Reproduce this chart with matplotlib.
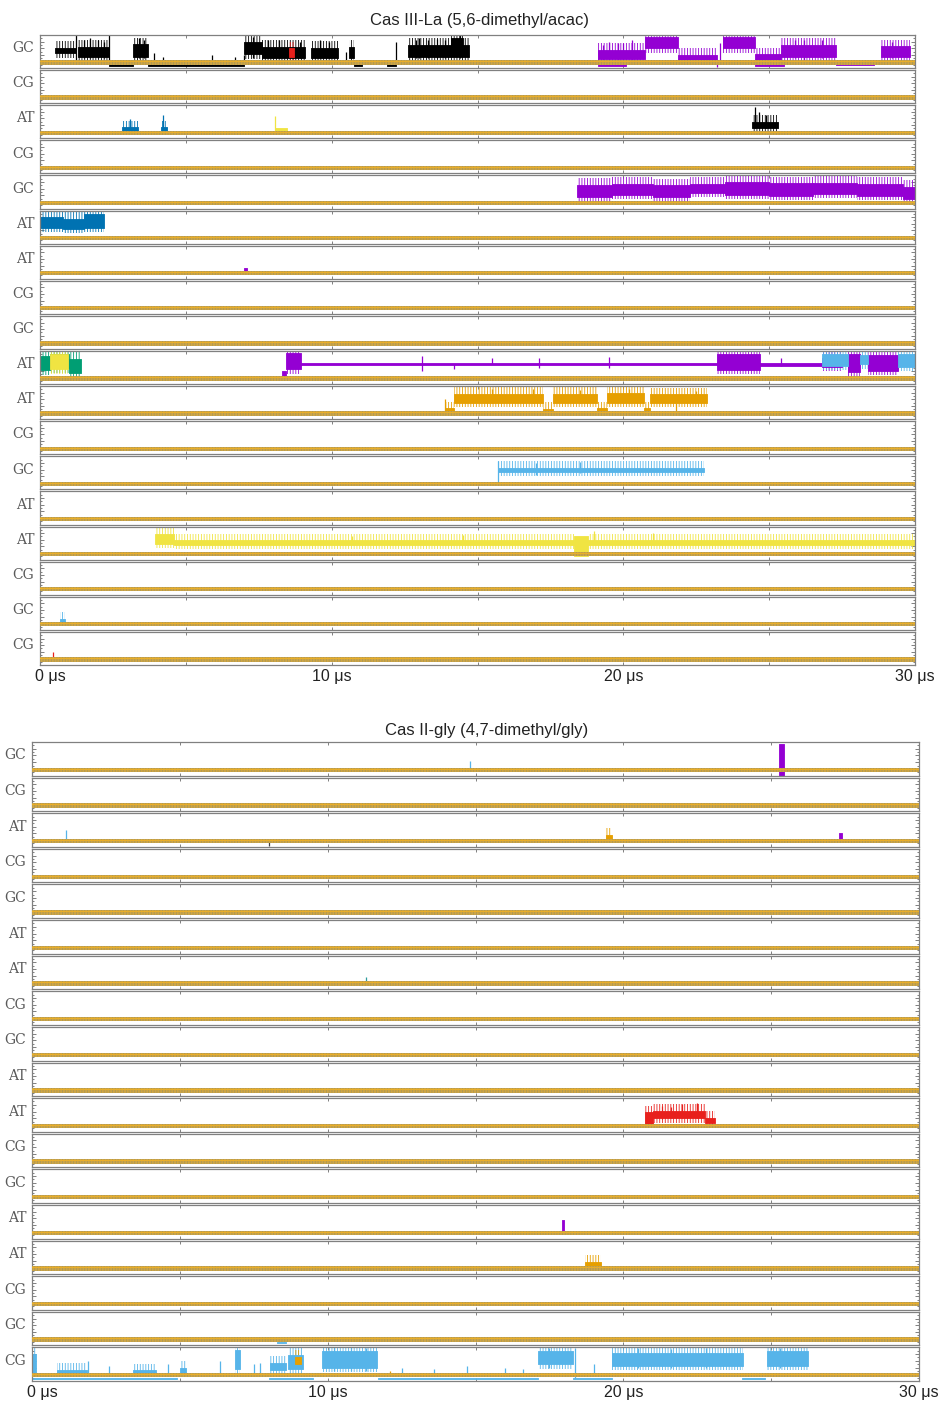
import matplotlib
matplotlib.use("Agg")
import matplotlib.pyplot as plt
from matplotlib.transforms import ScaledTranslation

W, H = 938, 1401

# ---------------- data ----------------
TOP_TITLE = "Cas III-La (5,6-dimethyl/acac)"
BOTTOM_TITLE = "Cas II-gly (4,7-dimethyl/gly)"
ROW_LABELS = ["GC", "CG", "AT", "CG", "GC", "AT", "AT", "CG", "GC",
              "AT", "AT", "CG", "GC", "AT", "AT", "CG", "GC", "CG"]
XTICKS = [0, 5, 10, 15, 20, 25, 30]
XTICK_LABELS = ["0 μs", "", "10 μs", "", "20 μs", "", "30 μs"]
BASELINE = 0.17

BLACK = "#000000"; PURPLE = "#9400D3"; BLUE = "#0072B2"; SKY = "#56B4E9"
ORANGE = "#E69F00"; YELLOW = "#F0E442"; GREEN = "#009E73"; RED = "#E8201C"
TEAL = "#2E9C9C"

# segments: (t_start_us, t_end_us, low, high)   spikes: (t_us, low, high)
top_r0_black = [(0.50, 1.22, 0.45, 0.62), (1.30, 2.35, 0.35, 0.65), (2.35, 3.20, 0.07, 0.12),
                (3.20, 3.70, 0.35, 0.72), (3.70, 7.00, 0.07, 0.12), (7.00, 7.60, 0.42, 0.80),
                (7.60, 9.10, 0.32, 0.65), (9.30, 10.20, 0.32, 0.62), (10.60, 10.75, 0.30, 0.65),
                (10.75, 11.05, 0.07, 0.12), (11.90, 12.20, 0.07, 0.12), (12.60, 14.70, 0.35, 0.70),
                (14.10, 14.50, 0.60, 0.90)]
top_r0_black_spk = [(1.24, 0.17, 1.0), (2.35, 0.17, 1.0), (3.9, 0.17, 0.45), (4.2, 0.17, 0.35),
                    (5.9, 0.17, 0.40), (6.7, 0.17, 0.35), (7.0, 0.12, 0.40), (10.5, 0.17, 0.50),
                    (12.2, 0.17, 0.80), (1.5, 0.3, 0.85), (1.7, 0.3, 0.9), (2.0, 0.3, 0.85),
                    (2.2, 0.3, 0.8), (3.4, 0.3, 0.9), (3.55, 0.3, 0.85), (7.3, 0.3, 0.95),
                    (7.8, 0.3, 0.85), (8.2, 0.3, 0.85), (8.9, 0.3, 0.8), (9.6, 0.3, 0.85),
                    (9.9, 0.3, 0.8), (12.9, 0.3, 0.85), (13.0, 0.3, 0.9), (13.3, 0.3, 0.85),
                    (13.6, 0.3, 0.88), (13.9, 0.3, 0.85), (14.4, 0.3, 1.0)]
top_r0_red = [(8.55, 8.70, 0.35, 0.60)]
top_r0_purple = [(19.14, 20.74, 0.28, 0.55), (20.74, 21.87, 0.60, 0.95), (21.87, 23.20, 0.25, 0.40),
                 (23.40, 24.50, 0.60, 0.95), (24.50, 25.40, 0.22, 0.42), (25.40, 27.30, 0.33, 0.70),
                 (28.85, 29.83, 0.33, 0.66), (19.14, 20.10, 0.06, 0.12), (24.50, 25.50, 0.06, 0.12),
                 (27.30, 28.60, 0.08, 0.11)]
top_r0_purple_spk = [(19.5, 0.17, 0.80), (19.8, 0.17, 0.75), (20.3, 0.2, 0.85), (23.3, 0.17, 0.75),
                     (23.2, 0.02, 0.17), (26.2, 0.17, 0.85), (26.8, 0.3, 0.85), (25.9, 0.3, 0.85),
                     (29.2, 0.3, 0.8), (19.3, 0.2, 0.7), (20.0, 0.2, 0.75)]

top_r2_blue = [(2.80, 3.37, 0.22, 0.33), (4.15, 4.35, 0.22, 0.33)]
top_r2_blue_spk = [(3.1, 0.2, 0.57), (4.2, 0.2, 0.70)]
top_r2_yellow = [(8.05, 8.47, 0.20, 0.30)]
top_r2_yellow_spk = [(8.05, 0.2, 0.68)]
top_r2_black = [(24.40, 25.30, 0.30, 0.50)]
top_r2_black_spk = [(24.5, 0.3, 0.94), (24.65, 0.3, 0.80), (24.9, 0.3, 0.7)]

top_r4_purple = [(18.4, 19.6, 0.36, 0.72), (19.6, 21.0, 0.42, 0.75), (21.0, 22.3, 0.34, 0.70),
                 (22.3, 23.5, 0.48, 0.74), (23.5, 25.0, 0.42, 0.80), (25.0, 26.5, 0.38, 0.76),
                 (26.5, 28.0, 0.44, 0.78), (28.0, 29.6, 0.38, 0.74), (29.6, 30.0, 0.28, 0.66)]

top_r5_blue = [(0.0, 0.8, 0.48, 0.82), (0.8, 1.5, 0.44, 0.76), (1.5, 2.2, 0.48, 0.90)]
top_r6_purple = [(6.98, 7.08, 0.17, 0.32)]

top_r9_green = [(0.0, 0.35, 0.42, 0.86), (0.35, 1.0, 0.48, 0.90), (1.0, 1.40, 0.34, 0.76)]
top_r9_yellow = [(0.34, 0.96, 0.45, 0.92)]
top_r9_purple = [(8.30, 8.45, 0.17, 0.40), (8.45, 8.95, 0.45, 0.95), (8.95, 23.2, 0.57, 0.64),
                 (23.2, 24.7, 0.44, 0.90), (24.7, 26.8, 0.56, 0.64), (26.8, 27.5, 0.52, 0.78),
                 (27.7, 28.1, 0.38, 0.90), (28.4, 29.4, 0.40, 0.88)]
top_r9_purple_spk = [(13.1, 0.40, 0.85), (14.2, 0.45, 0.62), (15.5, 0.6, 0.80), (17.1, 0.5, 0.80),
                     (19.5, 0.5, 0.82), (25.4, 0.55, 0.80)]
top_r9_sky = [(26.8, 27.7, 0.55, 0.92), (28.1, 28.4, 0.60, 0.88), (29.4, 30.0, 0.52, 0.92)]

top_r10_orange = [(13.90, 14.20, 0.22, 0.33), (14.20, 17.25, 0.50, 0.76), (17.25, 17.60, 0.22, 0.32),
                  (17.60, 19.10, 0.50, 0.76), (19.10, 19.45, 0.22, 0.33), (19.45, 20.70, 0.50, 0.80),
                  (20.70, 20.90, 0.23, 0.33), (20.90, 22.87, 0.50, 0.75)]
top_r10_orange_spk = [(13.9, 0.2, 0.62), (15.5, 0.5, 0.90), (16.9, 0.5, 0.92), (21.8, 0.2, 0.50),
                      (18.5, 0.5, 0.88), (20.2, 0.5, 0.9), (22.5, 0.5, 0.85)]

top_r12_sky = [(15.70, 22.75, 0.54, 0.66)]
top_r12_sky_spk = [(15.7, 0.17, 0.85), (17.0, 0.45, 0.80), (18.5, 0.5, 0.82)]

top_r14_yellow = [(3.94, 4.60, 0.48, 0.78), (4.60, 18.30, 0.44, 0.58), (18.30, 18.80, 0.12, 0.72),
                  (18.80, 30.0, 0.44, 0.58)]
top_r14_yellow_spk = [(19.0, 0.5, 0.88), (21.0, 0.5, 0.80), (10.7, 0.5, 0.72), (14.5, 0.5, 0.75)]

top_r16_sky = [(0.70, 0.85, 0.20, 0.33)]
top_r17_red_spk = [(0.45, 0.17, 0.40)]

bot_r0_purple = [(25.28, 25.42, 0.0, 0.95)]
bot_r0_sky_spk = [(14.8, 0.17, 0.42)]
bot_r2_sky_spk = [(1.15, 0.17, 0.50)]
bot_r2_orange = [(19.40, 19.60, 0.20, 0.36)]
bot_r2_purple = [(27.30, 27.40, 0.17, 0.42)]
bot_r2_dark_spk = [(8.0, 0.02, 0.17)]
bot_r6_teal_spk = [(11.3, 0.17, 0.38)]
bot_r10_red = [(20.73, 21.0, 0.22, 0.58), (21.0, 22.75, 0.40, 0.62), (22.75, 23.1, 0.25, 0.42)]
bot_r10_red_spk = [(21.3, 0.38, 0.78), (22.0, 0.4, 0.82), (22.5, 0.4, 0.85), (21.6, 0.4, 0.75)]
bot_r13_purple = [(17.92, 18.0, 0.17, 0.55)]
bot_r14_orange = [(18.70, 19.25, 0.22, 0.36)]
bot_r16_sky = [(8.30, 8.60, 0.06, 0.11)]
bot_r17_sky = [(0.0, 4.9, 0.06, 0.10), (8.0, 9.5, 0.06, 0.10), (11.7, 17.1, 0.06, 0.10),
               (18.3, 19.6, 0.06, 0.10), (24.0, 24.8, 0.06, 0.10),
               (0.0, 0.15, 0.20, 0.80), (0.85, 1.86, 0.22, 0.34), (3.40, 4.20, 0.22, 0.32),
               (5.00, 5.20, 0.22, 0.40), (6.87, 7.03, 0.35, 0.92), (8.05, 8.60, 0.32, 0.55),
               (8.65, 9.17, 0.35, 0.78), (9.80, 11.67, 0.40, 0.88), (17.10, 18.30, 0.50, 0.88),
               (19.60, 24.05, 0.45, 0.84), (24.85, 26.25, 0.45, 0.88)]
bot_r17_sky_spk = [(1.9, 0.2, 0.6), (2.6, 0.2, 0.45), (4.6, 0.2, 0.5), (6.36, 0.2, 0.6), (7.5, 0.2, 0.5),
                   (7.7, 0.2, 0.55), (12.5, 0.2, 0.4), (13.6, 0.2, 0.35), (14.7, 0.2, 0.45),
                   (16.0, 0.2, 0.4), (16.6, 0.2, 0.35), (18.35, 0.1, 0.98), (19.0, 0.2, 0.5),
                   (10.2, 0.3, 1.0), (10.8, 0.3, 1.0), (11.3, 0.3, 0.98), (20.5, 0.4, 0.98),
                   (21.6, 0.4, 0.95), (22.8, 0.4, 0.98), (25.3, 0.4, 0.98), (17.5, 0.4, 0.98)]
bot_r17_orange = [(8.90, 9.10, 0.52, 0.72)]
bot_r17_orange_spk = [(12.1, 0.17, 0.30)]

# (panel, row, color, segments, spikes)
TRACES = [
    (0, 0, BLACK, top_r0_black, top_r0_black_spk), (0, 0, RED, top_r0_red, []),
    (0, 0, PURPLE, top_r0_purple, top_r0_purple_spk),
    (0, 2, BLUE, top_r2_blue, top_r2_blue_spk), (0, 2, YELLOW, top_r2_yellow, top_r2_yellow_spk),
    (0, 2, BLACK, top_r2_black, top_r2_black_spk),
    (0, 4, PURPLE, top_r4_purple, []), (0, 5, BLUE, top_r5_blue, []),
    (0, 6, PURPLE, top_r6_purple, []),
    (0, 9, GREEN, top_r9_green, []), (0, 9, YELLOW, top_r9_yellow, []),
    (0, 9, PURPLE, top_r9_purple, top_r9_purple_spk), (0, 9, SKY, top_r9_sky, []),
    (0, 10, ORANGE, top_r10_orange, top_r10_orange_spk),
    (0, 12, SKY, top_r12_sky, top_r12_sky_spk),
    (0, 14, YELLOW, top_r14_yellow, top_r14_yellow_spk),
    (0, 16, SKY, top_r16_sky, []), (0, 17, RED, [], top_r17_red_spk),
    (1, 0, PURPLE, bot_r0_purple, []), (1, 0, SKY, [], bot_r0_sky_spk),
    (1, 2, SKY, [], bot_r2_sky_spk), (1, 2, ORANGE, bot_r2_orange, []),
    (1, 2, PURPLE, bot_r2_purple, []), (1, 2, "#404040", [], bot_r2_dark_spk),
    (1, 6, TEAL, [], bot_r6_teal_spk),
    (1, 10, RED, bot_r10_red, bot_r10_red_spk),
    (1, 13, PURPLE, bot_r13_purple, []), (1, 14, ORANGE, bot_r14_orange, []),
    (1, 16, SKY, bot_r16_sky, []),
    (1, 17, SKY, bot_r17_sky, bot_r17_sky_spk), (1, 17, ORANGE, bot_r17_orange, bot_r17_orange_spk),
]

# ---------------- layout ----------------
PANELS = [dict(left=40, right=915, top=35, bottom=665, title=TOP_TITLE, tx=479, ty=21),
          dict(left=32, right=919, top=742, bottom=1381, title=BOTTOM_TITLE, tx=487, ty=730)]
GAP = 2.0
SPINE = "#808080"
HALO_LO, HALO_HI = 0.13, 0.20  # fluctuation envelope drawn around each dense segment

plt.rcParams["hatch.linewidth"] = 0.6

fig = plt.figure(figsize=(W / 100, H / 100), dpi=100)
axes = []
for p in PANELS:
    n = len(ROW_LABELS)
    h = (p["bottom"] - p["top"] - GAP * (n - 1)) / n
    row_axes = []
    for i, lab in enumerate(ROW_LABELS):
        top = p["top"] + i * (h + GAP)
        ax = fig.add_axes([p["left"] / W, 1 - (top + h) / H, (p["right"] - p["left"]) / W, h / H])
        ax.set_xlim(0, 30)
        ax.set_ylim(0, 1)
        for s in ax.spines.values():
            s.set_color(SPINE)
            s.set_linewidth(0.9)
        ax.set_xticks(XTICKS)
        ax.set_yticks([0.2, 0.4, 0.6, 0.8])
        ax.set_yticks([0.1, 0.3, 0.5, 0.7, 0.9], minor=True)
        ax.tick_params(axis="both", which="both", direction="in", color=SPINE, width=0.7,
                       top=True, right=True, labelleft=False, labelbottom=False)
        ax.tick_params(axis="y", which="major", length=3.0)
        ax.tick_params(axis="y", which="minor", length=1.6)
        ax.tick_params(axis="x", which="major", length=2.5)
        # baseline (dense fluctuating trace around the bound state)
        ax.fill_between([0, 30], [BASELINE - 0.065] * 2, [BASELINE + 0.065] * 2,
                        color="#CFA545", lw=0, zorder=3)
        ax.fill_between([0, 30], [BASELINE - 0.065] * 2, [BASELINE + 0.065] * 2,
                        facecolor="none", edgecolor="#7E8A6A", hatch="||||||", lw=0, alpha=0.45, zorder=3.05)
        ax.plot([0, 30], [BASELINE + 0.035, BASELINE + 0.035], color="#E9AE2A", lw=0.8, zorder=3.2)
        ax.annotate(lab, xy=(0, 0.6), xycoords="axes fraction", xytext=(-4, 0),
                    textcoords="offset points", ha="right", va="center",
                    fontsize=10, family="DejaVu Serif", color="#5a5a5a")
        row_axes.append(ax)
    last = row_axes[-1]
    last.set_xticklabels(XTICK_LABELS)
    last.tick_params(axis="x", labelbottom=True, labelsize=11.5, pad=3, labelcolor="#222222")
    for lbl in last.get_xticklabels():
        lbl.set_family("Liberation Sans")
    first = last.get_xticklabels()[0]
    first.set_horizontalalignment("left")
    first.set_transform(first.get_transform() + ScaledTranslation(-5 / 100, 0, fig.dpi_scale_trans))
    fig.text(p["tx"] / W, 1 - p["ty"] / H, p["title"], ha="center", va="center",
             fontsize=12, family="Liberation Sans", color="#222222")
    axes.append(row_axes)

for panel, row, color, segs, spikes in TRACES:
    ax = axes[panel][row]
    for t0, t1, lo, hi in segs:
        if hi - lo >= 0.1 and lo > BASELINE:
            ax.fill_between([t0, t1], [max(lo - HALO_LO, BASELINE)] * 2, [min(hi + HALO_HI, 1.0)] * 2,
                            facecolor="none", edgecolor=color, hatch="||||||", lw=0, zorder=1.9)
        ax.fill_between([t0, t1], [lo, lo], [hi, hi], color=color, lw=0.6, edgecolor=color, zorder=2)
    for t, lo, hi in spikes:
        ax.vlines(t, lo, hi, color=color, lw=0.9, zorder=2)

fig.savefig("out.png", dpi=100)
